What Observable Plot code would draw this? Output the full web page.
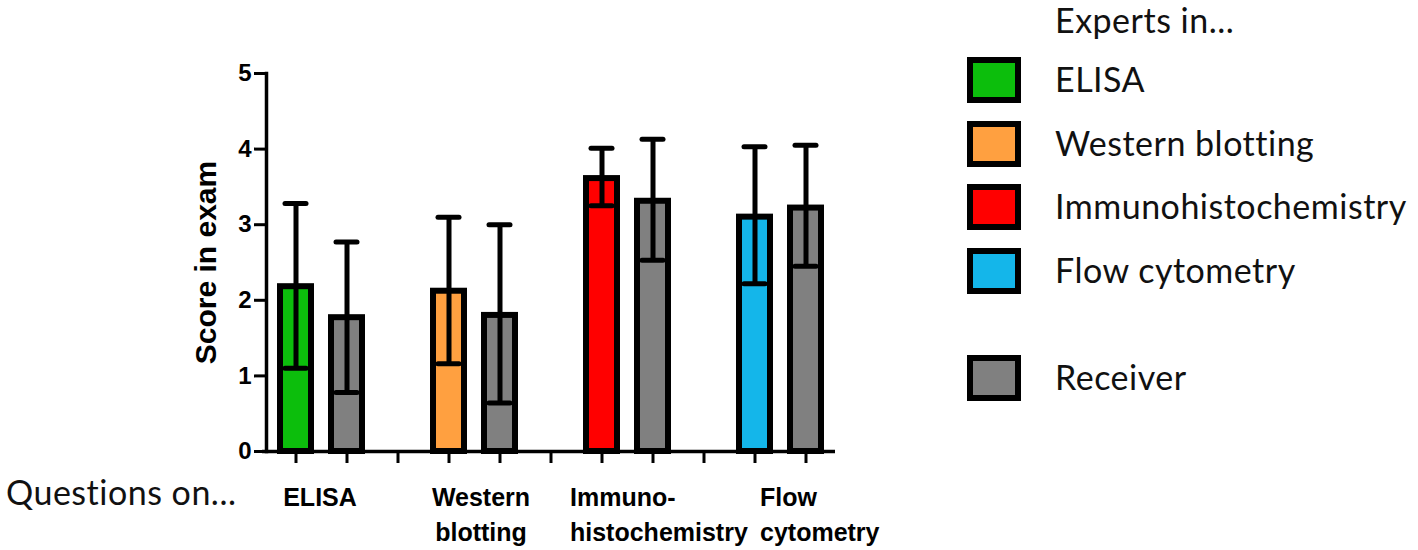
<!DOCTYPE html>
<html><head><meta charset="utf-8">
<script src="https://cdn.jsdelivr.net/npm/d3@7"></script>
<script src="https://cdn.jsdelivr.net/npm/@observablehq/plot@0.6"></script>
<style>
body{margin:0;background:#fff;}
#wrap{position:relative;width:1418px;height:550px;overflow:hidden;background:#fff;}
#wrap svg g[aria-label="y-axis label"] text{font-size:30px;font-weight:bold;}
.lbl{position:absolute;font-family:Lato,'Open Sans',sans-serif;font-size:34px;letter-spacing:0.5px;color:#111;line-height:40px;white-space:nowrap;}
.sw{position:absolute;box-sizing:border-box;width:54px;height:46px;border:6px solid #000;}
</style>
</head><body><div id="wrap"></div>
<script>
// ---- data ----
const questions = ["ELISA", "Western blotting", "Immunohistochemistry", "Flow cytometry"];
const expertMean = [2.18, 2.12, 3.61, 3.10];
const expertLow  = [1.10, 1.16, 3.25, 2.22];
const expertHigh = [3.28, 3.10, 4.01, 4.03];
const receiverMean = [1.77, 1.80, 3.31, 3.22];
const receiverLow  = [0.78, 0.64, 2.53, 2.45];
const receiverHigh = [2.77, 3.00, 4.13, 4.05];
const legendLabels = ["ELISA", "Western blotting", "Immunohistochemistry", "Flow cytometry", "Receiver"];
const legendColors = ["#0CBE0C", "#FFA040", "#FF0000", "#14B6EA", "#808080"];
const yTicks = [0, 1, 2, 3, 4, 5];
const groupLines = [["ELISA"], ["Western", "blotting"], ["Immuno-", "histochemistry"], ["Flow", "cytometry"]];
const legendTitle = "Experts in...";
const xTitle = "Questions on...";
const yTitle = "Score in exam";

// ---- build ----
const slots = [];
questions.forEach((q, i) => {
  slots.push(q + "|E", q + "|R");
  if (i < questions.length - 1) slots.push(q + "|gap");
});
const bars = questions.flatMap((q, i) => [
  {slot: q + "|E", group: legendLabels[i], mean: expertMean[i], lo: expertLow[i], hi: expertHigh[i]},
  {slot: q + "|R", group: "Receiver", mean: receiverMean[i], lo: receiverLow[i], hi: receiverHigh[i]}
]);
const glabels = questions.map((q, i) => ({slot: q + "|E", text: groupLines[i].join("\n")}));

const labelFont = {fontFamily: "'Liberation Sans', Arial, sans-serif", fontWeight: "bold", fontSize: 25, lineAnchor: "top", frameAnchor: "bottom", dy: 30, lineHeight: 1.4, fill: "#000"};

const chart = Plot.plot({
  width: 1418, height: 550,
  marginLeft: 266, marginRight: 583, marginTop: 73, marginBottom: 99,
  style: {fontFamily: "'Liberation Sans', Arial, sans-serif", color: "#000", background: "transparent", overflow: "visible"},
  x: {type: "band", domain: slots, paddingInner: 0.4, paddingOuter: 0.2},
  y: {domain: [0, 5]},
  color: {domain: legendLabels, range: legendColors},
  marks: [
    Plot.barY(bars, {x: "slot", y: "mean", fill: "group", stroke: "#000", strokeWidth: 6}),
    Plot.ruleX(bars, {x: "slot", y1: "lo", y2: "hi", stroke: "#000", strokeWidth: 5}),
    Plot.tickY(bars, {x: "slot", y: "hi", stroke: "#000", strokeWidth: 5, insetLeft: 5, insetRight: 5, strokeLinecap: "round"}),
    Plot.tickY(bars, {x: "slot", y: "lo", stroke: "#000", strokeWidth: 5, insetLeft: 5, insetRight: 5, strokeLinecap: "round"}),
    Plot.ruleY([0], {stroke: "#000", strokeWidth: 3.5, insetLeft: -4}),
    Plot.frame({anchor: "left", stroke: "#000", strokeWidth: 3.5}),
    Plot.axisY({ticks: yTicks, tickSize: 12, tickPadding: 3, tickFormat: d3.format("d"), fontSize: 24, fontWeight: "bold", strokeWidth: 3, label: yTitle, labelAnchor: "center", labelArrow: "none", labelOffset: 72}),
    Plot.axisX({tickSize: 12, tickFormat: () => "", strokeWidth: 3, label: null}),
    Plot.text([glabels[0]], {x: "slot", text: "text", textAnchor: "middle", dx: 24, ...labelFont}),
    Plot.text([glabels[1]], {x: "slot", text: "text", textAnchor: "middle", dx: 32, ...labelFont}),
    Plot.text([glabels[2]], {x: "slot", text: "text", textAnchor: "start", dx: -32, ...labelFont}),
    Plot.text([glabels[3]], {x: "slot", text: "text", textAnchor: "start", dx: 5, ...labelFont})
  ]
});
const wrap = document.getElementById("wrap");
wrap.appendChild(chart);

// x title
const xt = document.createElement("div");
xt.className = "lbl"; xt.textContent = xTitle;
xt.style.left = "6px"; xt.style.top = "472px";
wrap.appendChild(xt);

// legend
const lt = document.createElement("div");
lt.className = "lbl"; lt.textContent = legendTitle;
lt.style.left = "1055px"; lt.style.top = "0px";
wrap.appendChild(lt);
legendLabels.forEach((name, i) => {
  const top = i < 4 ? 57 + i * 63.7 : 355;
  const sw = document.createElement("div");
  sw.className = "sw"; sw.style.left = "967px"; sw.style.top = top + "px";
  sw.style.background = legendColors[i];
  wrap.appendChild(sw);
  const t = document.createElement("div");
  t.className = "lbl"; t.textContent = name;
  t.style.left = "1055px"; t.style.top = (top + 2) + "px";
  wrap.appendChild(t);
});
</script>
</body></html>
